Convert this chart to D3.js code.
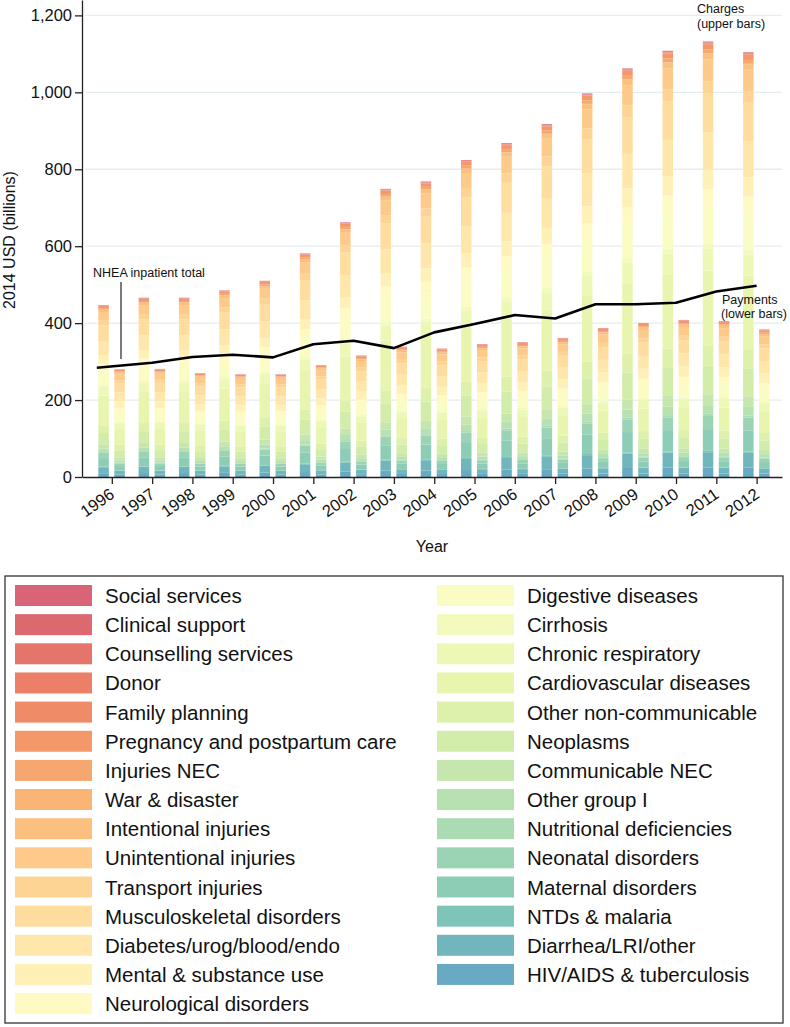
<!DOCTYPE html>
<html>
<head>
<meta charset="utf-8">
<script src="https://cdn.jsdelivr.net/npm/d3@7"></script>
<style>
  body { margin: 0; background: #fff; }
  text { font-family: "Liberation Sans", Arial, Helvetica, sans-serif; fill: #111; }
</style>
</head>
<body>
<svg id="chart" width="790" height="1027"></svg>
<script>
// years on the x axis
const years = [1996, 1997, 1998, 1999, 2000, 2001, 2002, 2003, 2004, 2005, 2006, 2007, 2008, 2009, 2010, 2011, 2012];

// causes, in legend order (top of bar first)
const categories = [
  'Social services', 'Clinical support', 'Counselling services', 'Donor', 'Family planning',
  'Pregnancy and postpartum care', 'Injuries NEC', 'War & disaster', 'Intentional injuries',
  'Unintentional injuries', 'Transport injuries', 'Musculoskeletal disorders',
  'Diabetes/urog/blood/endo', 'Mental & substance use', 'Neurological disorders',
  'Digestive diseases', 'Cirrhosis', 'Chronic respiratory', 'Cardiovascular diseases',
  'Other non-communicable', 'Neoplasms', 'Communicable NEC', 'Other group I',
  'Nutritional deficiencies', 'Neonatal disorders', 'Maternal disorders', 'NTDs & malaria',
  'Diarrhea/LRI/other', 'HIV/AIDS & tuberculosis'
];

// bar totals, 2014 USD billions
const chargeTotal  = [447, 466, 466, 485, 510, 581, 662, 749, 768, 824, 868, 917, 997, 1062, 1108, 1132, 1104];
const paymentTotal = [281, 282, 271, 268, 268, 292, 317, 340, 335, 347, 352, 363, 389, 402, 410, 407, 385];

// NHEA inpatient total (line)
const nheaTotal = [284, 297, 312, 318, 311, 345, 354, 335, 376, 398, 421, 412, 449, 449, 453, 482, 497];

// share of each bar by cause (%), same order as categories
const chargeShare  = [0.2, 0.1, 0.1, 0.1, 0.1, 1.2, 0.9, 0.1, 1.3, 5.0, 2.8, 9.0, 8.5, 4.5, 4.0,
                      8.5, 1.2, 5.0, 17.3, 4.5, 6.6, 2.5, 2.0, 0.5, 3.0, 5.0, 0.3, 3.5, 2.2];
const paymentShare = [0.2, 0.1, 0.1, 0.1, 0.1, 1.5, 0.9, 0.1, 1.4, 5.5, 2.8, 8.5, 8.3, 6.5, 4.5,
                      8.0, 1.2, 5.5, 14.6, 5.0, 6.5, 2.8, 2.2, 0.6, 2.5, 4.0, 0.3, 3.5, 2.3];

const yTicks = [0, 200, 400, 600, 800, 1000, 1200];

const colours = [
  '#d96477', '#dc6870', '#e5746b', '#eb7f68', '#ef8b66', '#f39868', '#f6a66f', '#f9b476',
  '#fbc07e', '#fdca89', '#fed494', '#fedd9f', '#ffe7ab', '#fff0b7', '#fff9c3', '#fafcc4',
  '#f4fabd', '#eef8b6', '#e7f5ae', '#ddf1aa', '#d2ecaa', '#c5e7ad', '#b7e1b0', '#aadbb2',
  '#9bd4b4', '#8dcdb6', '#7ec4b9', '#72b6bd', '#68a9c3'
];

const svg = d3.select('#chart');

const x = d3.scaleLinear().domain([1995.26, 2012.63]).range([82, 782]);
const y = d3.scaleLinear().domain([0, 1240]).range([477, 0]);
const colour = d3.scaleOrdinal().domain(categories).range(colours);

const barW = 10.5;

// gridlines
svg.append('g')
  .selectAll('line')
  .data(yTicks.filter(d => d > 0))
  .join('line')
    .attr('x1', 85)
    .attr('x2', 782)
    .attr('y1', d => y(d))
    .attr('y2', d => y(d))
    .attr('stroke', '#e6edf0')
    .attr('stroke-width', 1.3);

// build stacks (bottom of bar = last category)
function makeRows(totals, shares) {
  return years.map((yr, i) => {
    const row = { year: yr };
    categories.forEach((c, j) => { row[c] = totals[i] * shares[j] / 100; });
    return row;
  });
}

const stack = d3.stack().keys(categories.slice().reverse());
const chargeStack = stack(makeRows(chargeTotal, chargeShare));
const paymentStack = stack(makeRows(paymentTotal, paymentShare));

function drawBars(series, offset) {
  svg.append('g')
    .selectAll('g')
    .data(series)
    .join('g')
      .attr('fill', d => colour(d.key))
    .selectAll('rect')
    .data(d => d)
    .join('rect')
      .attr('x', d => x(d.data.year) + offset)
      .attr('width', barW)
      .attr('y', d => y(d[1]))
      .attr('height', d => Math.max(0, y(d[0]) - y(d[1])));
}

drawBars(chargeStack, -13.5);
drawBars(paymentStack, 2.5);

// NHEA line
const linePts = years.map((yr, i) => [i === 0 ? x(yr) - 15 : x(yr), y(nheaTotal[i])]);
svg.append('path')
  .attr('d', d3.line()(linePts))
  .attr('fill', 'none')
  .attr('stroke', '#000')
  .attr('stroke-width', 2.6)
  .attr('stroke-linejoin', 'round');

// y axis
const yAxis = svg.append('g')
  .attr('transform', 'translate(82,0)')
  .call(d3.axisLeft(y).tickValues(yTicks).tickFormat(d3.format(',')).tickSize(7).tickSizeOuter(0).tickPadding(3));
yAxis.selectAll('text').attr('font-size', 16.5).attr('font-family', null);
yAxis.selectAll('line, path').attr('stroke', '#222').attr('stroke-width', 1.3);

// x axis
const xAxis = svg.append('g')
  .attr('transform', 'translate(0,477)')
  .call(d3.axisBottom(x).tickValues(years).tickFormat(d3.format('d')).tickSize(7).tickSizeOuter(0));
xAxis.selectAll('line, path').attr('stroke', '#222').attr('stroke-width', 1.3);
xAxis.selectAll('text')
  .attr('font-size', 16.5)
  .attr('font-family', null)
  .attr('text-anchor', 'end')
  .attr('x', 0)
  .attr('y', 0)
  .attr('dy', '0.35em')
  .attr('transform', 'translate(0,15) rotate(-35)');

// axis titles
svg.append('text')
  .attr('x', 432)
  .attr('y', 552)
  .attr('text-anchor', 'middle')
  .attr('font-size', 16)
  .text('Year');

svg.append('text')
  .attr('transform', 'translate(15,240) rotate(-90)')
  .attr('text-anchor', 'middle')
  .attr('font-size', 16)
  .text('2014 USD (billions)');

// annotations
const note = (tx, ty, s) => svg.append('text').attr('x', tx).attr('y', ty).attr('font-size', 12.5).text(s);
note(697, 13, 'Charges');
note(697, 28, '(upper bars)');
note(722, 304, 'Payments');
note(721, 318, '(lower bars)');
note(93, 277, 'NHEA inpatient total');

svg.append('line')
  .attr('x1', 121).attr('x2', 121)
  .attr('y1', 282).attr('y2', 359)
  .attr('stroke', '#222')
  .attr('stroke-width', 1.2);

// legend
svg.append('rect')
  .attr('x', 5)
  .attr('y', 576)
  .attr('width', 778)
  .attr('height', 447)
  .attr('fill', '#fff')
  .attr('stroke', '#333')
  .attr('stroke-width', 1.3);

const legend = svg.append('g')
  .selectAll('g')
  .data(categories)
  .join('g')
    .attr('transform', (d, i) => {
      const col = i < 15 ? 0 : 1;
      const row = i < 15 ? i : i - 15;
      return `translate(${col ? 437 : 15},${585 + row * 29.15})`;
    });

legend.append('rect')
  .attr('width', 77)
  .attr('height', 21)
  .attr('fill', d => colour(d));

legend.append('text')
  .attr('x', 90)
  .attr('y', 18)
  .attr('font-size', 20.5)
  .text(d => d);
</script>
</body>
</html>
